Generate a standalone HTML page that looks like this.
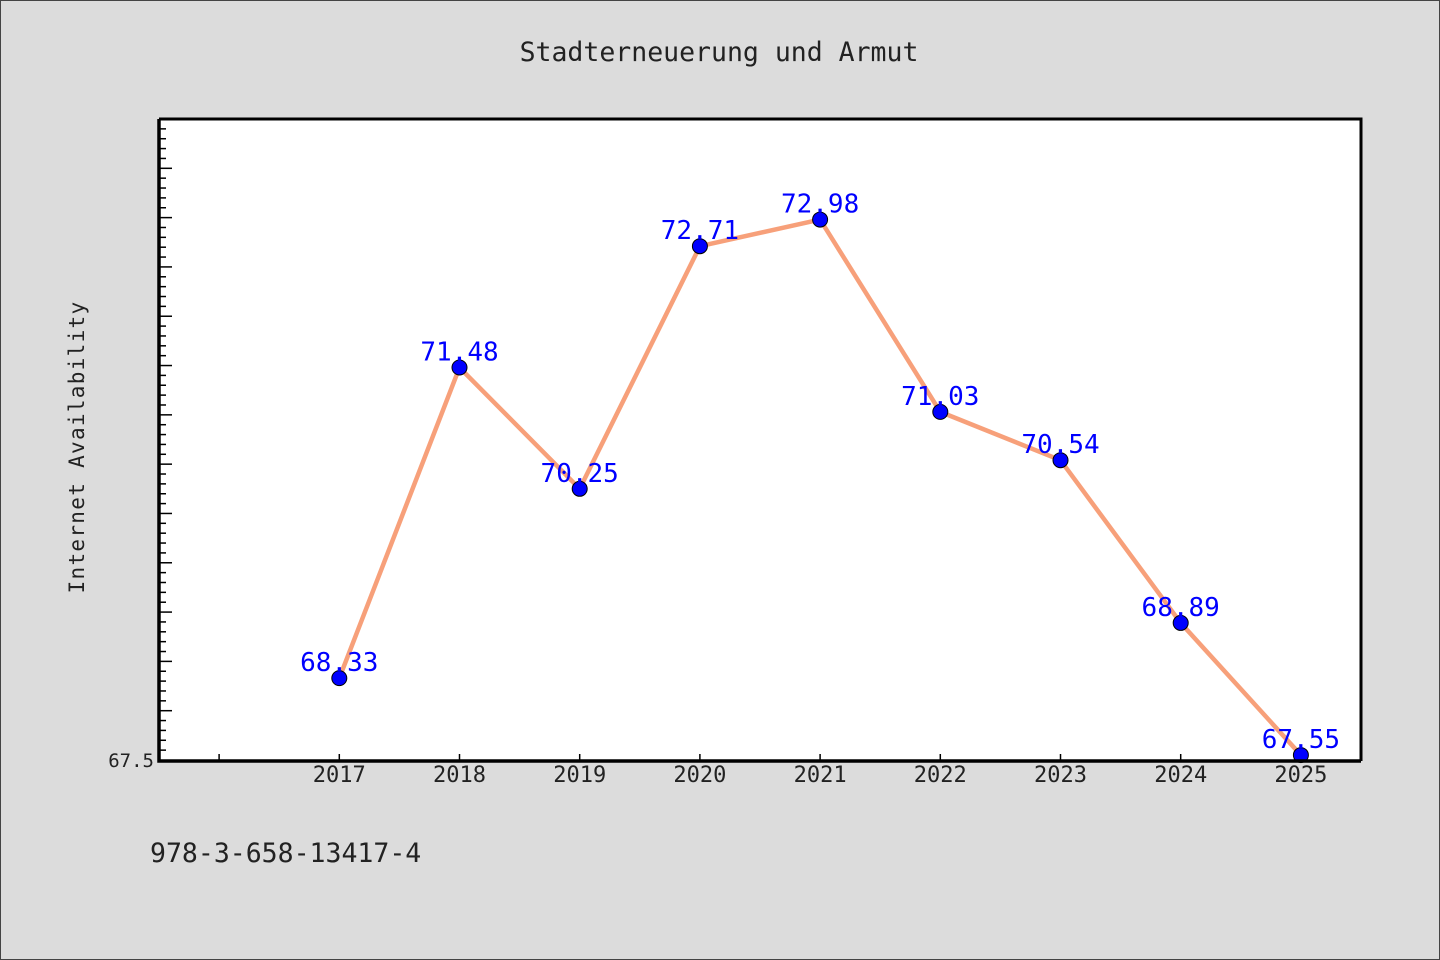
<!DOCTYPE html>
<html><head><meta charset="utf-8"><style>
html,body{margin:0;padding:0;background:#dcdcdc;}
svg{display:block;font-family:"DejaVu Sans Mono","Liberation Mono",monospace;}
</style></head><body>
<svg width="1440" height="960" xmlns="http://www.w3.org/2000/svg">
<rect x="0.5" y="0.5" width="1439" height="959" fill="#dcdcdc" stroke="#444"/>
<text x="719" y="61" text-anchor="middle" font-size="26.5" fill="#222">Stadterneuerung und Armut</text>
<rect x="159" y="119" width="1202" height="642" fill="#fff"/>
<g id="yticks"></g>
<g id="xticks"></g>
<g id="series"></g>
<path d="M159 119 H1361 V761" fill="none" stroke="#000" stroke-width="3"/>
<path d="M159 119 V761 H1361" fill="none" stroke="#000" stroke-width="3.5"/>
<text transform="translate(84,447) rotate(-90)" text-anchor="middle" font-size="21" fill="#222" letter-spacing="1.3">Internet Availability</text>
<text x="150" y="862" font-size="26.5" fill="#222">978-3-658-13417-4</text>
</svg>
<script>
const years=[2017,2018,2019,2020,2021,2022,2023,2024,2025];
const values=[68.33,71.48,70.25,72.71,72.98,71.03,70.54,68.89,67.55];
const labels=["68.33","71.48","70.25","72.71","72.98","71.03","70.54","68.89","67.55"];
const yMin=67.5,yMax=74.0,xMin=2015.5,xMax=2025.5;
const L=159,R=1361,T=119,B=760;
const ns="http://www.w3.org/2000/svg";
function xs(v){return L+(v-xMin)/(xMax-xMin)*(R-L);}
function ys(v){return B-(v-yMin)/(yMax-yMin)*(B-T);}
function mk(t,a,p){const e=document.createElementNS(ns,t);for(const k in a)e.setAttribute(k,a[k]);p.appendChild(e);return e;}
const yg=document.getElementById('yticks');
for(let i=1;i<=64;i++){const v=yMin+i*0.1;const y=ys(v);const major=i%5===0;
 const l=mk('line',{x1:L,x2:L+(major?13:7),y1:y,y2:y,stroke:'#000','stroke-width':1.5},yg);
 
 }
const yl=mk('text',{x:154,y:B+7,'text-anchor':'end','font-size':19,fill:'#222'},yg);
yl.textContent='67.5';


const xg=document.getElementById('xticks');
for(let yr=2016;yr<=2025;yr++){const x=xs(yr);
 const t=mk('line',{x1:x,x2:x,y1:B,y2:B-6,stroke:'#000','stroke-width':1.5},xg);
 
 }
years.forEach(yr=>{const t=mk('text',{x:xs(yr),y:782,'text-anchor':'middle','font-size':22,fill:'#222'},xg);
 t.textContent=String(yr);
 
 });
const sg=document.getElementById('series');
const pl=mk('polyline',{points:years.map((y,i)=>xs(y)+','+ys(values[i])).join(' '),fill:'none',stroke:'#f7a07a','stroke-width':4.5,'stroke-linejoin':'round'},sg);


years.forEach((yr,i)=>{const x=xs(yr),y=ys(values[i]);
 const c=mk('circle',{cx:x,cy:y,r:7.5,fill:'#0000ff',stroke:'#000','stroke-width':1},sg);
 
 
 const t=mk('text',{x:x,y:y-7,'text-anchor':'middle','font-size':26,fill:'#0000ff'},sg);
 t.textContent=labels[i];
 
 });
</script>
</body></html>
